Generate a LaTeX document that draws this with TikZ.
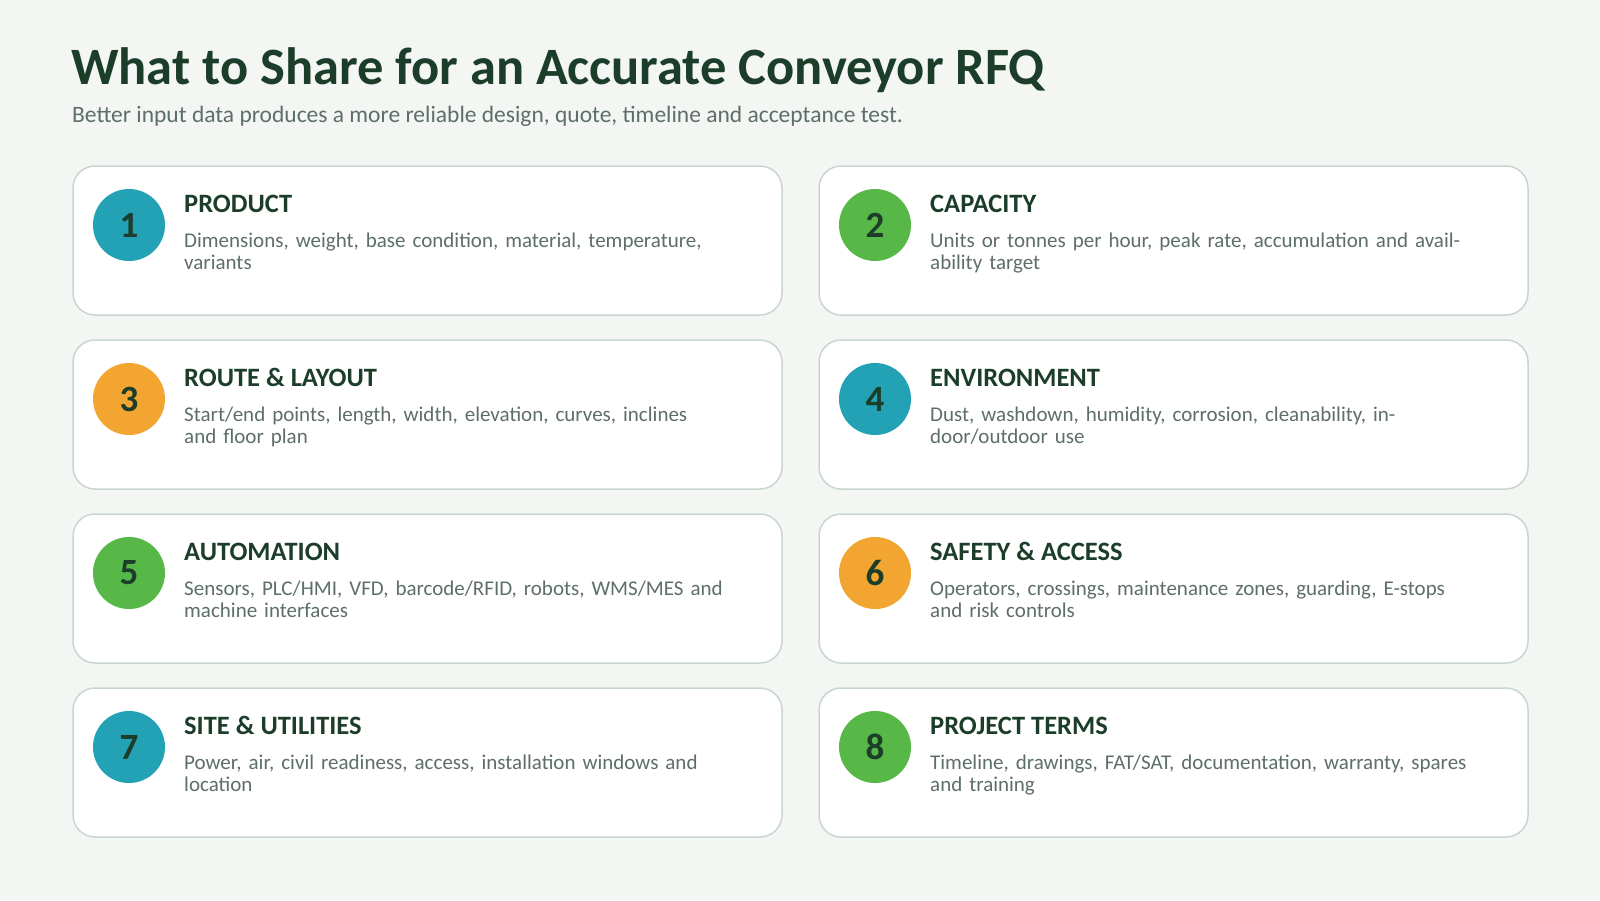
\documentclass[tikz,border=0pt]{standalone}
\usepackage{fontspec}
\setmainfont{Carlito}
\usetikzlibrary{positioning}
\definecolor{bgcol}{HTML}{F4F6F3}
\definecolor{edgecol}{HTML}{C9D6D0}
\definecolor{darkgreen}{HTML}{1B3D2A}
\definecolor{graytext}{HTML}{5E6E68}
\definecolor{tealc}{HTML}{22A2B4}
\definecolor{greenc}{HTML}{57B847}
\definecolor{orangec}{HTML}{F2A530}
\tikzset{
  card/.style={draw=edgecol, line width=1.5pt, fill=white, rounded corners=22pt},
  num/.style={circle, minimum size=72pt, inner sep=0pt, text=darkgreen,
    font=\fontsize{37}{37}\selectfont\bfseries},
  head/.style={anchor=base west, inner sep=0pt, text=darkgreen,
    font=\fontsize{26.5}{26.5}\selectfont\bfseries},
  desc/.style={anchor=north west, inner sep=0pt, text=graytext, align=left,
    text width=540pt, font=\fontsize{21}{22}\selectfont}
}
\begin{document}
\begin{tikzpicture}[x=1pt,y=-1pt]
  \fill[bgcol] (0,0) rectangle (1600,900);
  \useasboundingbox (0,0) rectangle (1600,900);
  \node (title) at (71,70) [anchor=west, inner sep=0pt, text=darkgreen,
    font=\fontsize{52.5}{52.5}\selectfont\bfseries] {What to Share for an Accurate Conveyor RFQ};
  \node (sub) at (72,116) [anchor=west, inner sep=0pt, text=graytext,
    font=\fontsize{23.5}{23.5}\selectfont] {Better input data produces a more reliable design, quote, timeline and acceptance test.};
  \foreach \n/\col/\row/\fc/\hd/\tx in {
    1/0/0/tealc/PRODUCT/{Dimensions, weight, base condition, material, temperature, variants},
    2/1/0/greenc/CAPACITY/{Units or tonnes per hour, peak rate, accumulation and availability target},
    3/0/1/orangec/ROUTE \& LAYOUT/{Start/end points, length, width, elevation, curves, inclines and floor plan},
    4/1/1/tealc/ENVIRONMENT/{Dust, washdown, humidity, corrosion, cleanability, indoor/outdoor use},
    5/0/2/greenc/AUTOMATION/{Sensors, PLC/HMI, VFD, barcode/RFID, robots, WMS/MES and machine interfaces},
    6/1/2/orangec/SAFETY \& ACCESS/{Operators, crossings, maintenance zones, guarding, E-stops and risk controls},
    7/0/3/tealc/SITE \& UTILITIES/{Power, air, civil readiness, access, installation windows and location},
    8/1/3/greenc/PROJECT TERMS/{Timeline, drawings, FAT/SAT, documentation, warranty, spares and training}}{
    \pgfmathsetmacro{\cx}{73+746*\col}
    \pgfmathsetmacro{\cy}{166+174*\row}
    \draw[card] (\cx,\cy) rectangle ++(709,149);
    \node[num, fill=\fc] (c\n) at (\cx+56,\cy+59) {\n};
    \node[head] (h\n) at (\cx+111,\cy+46) {\hd};
    \node[desc] (d\n) at (\cx+111,\cy+67) {\hyphenpenalty=10000 \raggedright \tx};
  }
\end{tikzpicture}
\end{document}
